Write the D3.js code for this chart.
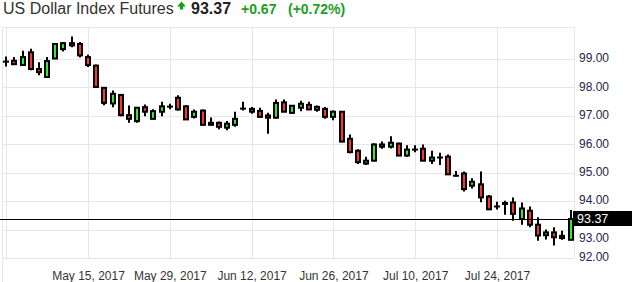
<!DOCTYPE html>
<html>
<head>
<meta charset="utf-8">
<script src="https://cdn.jsdelivr.net/npm/d3@7"></script>
<style>
  body { margin: 0; background: #fff; }
  svg { display: block; font-family: "Liberation Sans", Arial, sans-serif; }
</style>
</head>
<body>
<div id="chart"></div>
<script>
// daily OHLC, one value per trading day from May 1 to Aug 4, 2017
const opens  = [98.90,98.93,98.78,99.23,98.64,98.36,99.01,99.34,99.55,99.52,
                99.06,98.76,97.98,97.43,97.73,97.02,96.81,97.30,96.89,97.14,
                97.32,97.63,97.33,96.96,97.18,96.68,96.75,96.58,96.68,97.25,
                97.24,97.17,97.01,96.93,97.47,97.10,97.28,97.38,97.21,97.24,
                96.96,97.14,96.19,95.77,95.32,95.42,95.91,95.91,96.02,95.60,
                95.81,95.84,95.42,95.53,95.56,94.89,94.97,94.54,94.59,94.16,
                93.81,93.93,93.95,93.37,93.66,93.17,92.80,92.90,92.78,92.64];
const highs  = [99.08,99.06,99.28,99.35,98.88,99.06,99.55,99.59,99.78,99.59,
                99.14,98.80,98.01,97.89,97.74,97.36,97.30,97.39,97.23,97.49,
                97.42,97.72,97.37,97.22,97.22,96.94,96.80,96.81,97.14,97.49,
                97.31,97.28,97.10,97.57,97.57,97.36,97.53,97.49,97.36,97.31,
                97.18,97.16,96.34,95.82,95.56,96.03,96.09,96.28,96.05,95.96,
                95.96,95.99,95.77,95.70,95.64,95.06,95.04,94.80,95.04,94.21,
                93.98,94.01,94.13,93.95,93.81,93.43,93.00,93.08,92.96,93.69];
const lows   = [98.73,98.80,98.77,98.60,98.42,98.36,98.99,99.26,99.41,99.05,
                98.71,98.00,97.37,97.30,96.98,96.75,96.75,96.98,96.88,96.98,
                97.23,97.18,96.85,96.90,96.66,96.66,96.52,96.49,96.61,97.18,
                97.07,96.95,96.37,96.90,97.13,97.09,97.16,97.20,97.14,96.89,
                96.84,96.08,95.68,95.30,95.27,95.40,95.84,95.85,95.58,95.56,
                95.72,95.41,95.30,95.27,94.93,94.86,94.34,94.44,93.96,93.69,
                93.70,93.52,93.31,93.17,93.08,92.61,92.65,92.44,92.64,92.62];
const closes = [98.90,98.81,99.06,98.64,98.53,98.92,99.52,99.55,99.47,99.12,
                98.78,98.01,97.45,97.77,97.02,96.89,97.28,97.14,97.16,97.33,
                97.32,97.22,96.87,97.14,96.68,96.75,96.61,96.72,96.89,97.25,
                97.14,96.96,96.93,97.45,97.14,97.35,97.42,97.22,97.31,96.96,
                97.14,96.09,95.72,95.37,95.42,95.99,95.99,96.05,95.60,95.81,
                95.81,95.42,95.53,95.53,94.94,94.89,94.42,94.68,94.13,93.71,
                93.81,93.90,93.55,93.74,93.17,92.79,92.90,92.73,92.70,93.37];

const yTicks = [92,93,94,95,96,97,98,99];
const lastPrice = 93.37;
const change = "+0.67";
const changePct = "(+0.72%)";

// trading days (weekdays only)
const days = d3.timeDay.range(new Date(2017,4,1), new Date(2017,7,5))
                .filter(d => d.getDay() > 0 && d.getDay() < 6);
const data = days.map((d,i) => ({date:d, o:opens[i], h:highs[i], l:lows[i], c:closes[i]}));

const w = 632, h = 282;
const plotLeft = 2, plotRight = 574, plotTop = 27, plotBottom = 258;

const x = d3.scalePoint()
    .domain(days)
    .range([6.2, 570.6]);

const y = d3.scaleLinear()
    .domain([92, 99])
    .range([258, 58.8]);

const svg = d3.select("#chart").append("svg")
    .attr("width", w)
    .attr("height", h);

// title
const title = svg.append("g");
title.append("text")
    .attr("x", 3).attr("y", 14)
    .style("font-size", "16px").style("fill", "#333")
    .text("US Dollar Index Futures");
title.append("path")
    .attr("d", "M181.5,1.5 L186,6.5 L183.2,6.5 L183.2,9.5 L179.8,9.5 L179.8,6.5 L177,6.5 Z")
    .style("fill", "#1e9e1e");
title.append("text")
    .attr("x", 191).attr("y", 14)
    .style("font-size", "16px").style("font-weight", "bold").style("fill", "#222")
    .text(lastPrice.toFixed(2));
title.append("text")
    .attr("x", 241).attr("y", 14)
    .style("font-size", "14px").style("font-weight", "bold").style("fill", "#1e9e1e")
    .text(change);
title.append("text")
    .attr("x", 288).attr("y", 14)
    .style("font-size", "14px").style("font-weight", "bold").style("fill", "#1e9e1e")
    .text(changePct);

// grid
const grid = svg.append("g").style("stroke", "#e6e6ea").style("stroke-width", 1);
grid.selectAll(".hg")
    .data(yTicks)
    .enter().append("line")
    .attr("x1", plotLeft).attr("x2", plotRight)
    .attr("y1", d => Math.round(y(d)) + 0.5)
    .attr("y2", d => Math.round(y(d)) + 0.5);
const xTicks = days.filter((d,i) => i % 10 == 0);
grid.selectAll(".vg")
    .data(xTicks)
    .enter().append("line")
    .attr("x1", d => Math.round(x(d)) + 0.5)
    .attr("x2", d => Math.round(x(d)) + 0.5)
    .attr("y1", plotTop).attr("y2", plotBottom);
grid.append("line")
    .attr("x1", plotLeft + 0.5).attr("x2", plotLeft + 0.5)
    .attr("y1", plotTop).attr("y2", h);
grid.append("line")
    .attr("x1", plotRight + 0.5).attr("x2", plotRight + 0.5)
    .attr("y1", plotTop).attr("y2", plotBottom);
grid.append("line")
    .attr("x1", plotLeft).attr("x2", plotRight)
    .attr("y1", plotTop + 0.5).attr("y2", plotTop + 0.5);

// y-axis labels on the right
const yAxis = d3.axisRight(y)
    .tickValues(yTicks)
    .tickSize(0)
    .tickPadding(5)
    .tickFormat(d3.format(".2f"));
svg.append("g")
    .attr("id", "y-axis")
    .attr("transform", "translate(" + plotRight + ",-1)")
    .call(yAxis)
    .call(g => g.select(".domain").remove())
    .selectAll("text")
    .attr("dy", d => d == 93 ? "1.05em" : "0.32em")   // keep 93.00 clear of the price tag
    .style("font-size", "12px")
    .style("font-family", "Liberation Sans, Arial, sans-serif")
    .style("fill", "#26264a");

// x-axis labels
const xAxis = d3.axisBottom(x)
    .tickValues(xTicks.slice(1))
    .tickSize(0)
    .tickPadding(13)
    .tickFormat(d3.timeFormat("%b %-d, %Y"));
svg.append("g")
    .attr("id", "x-axis")
    .attr("transform", "translate(0," + plotBottom + ")")
    .call(xAxis)
    .call(g => g.select(".domain").remove())
    .selectAll("text")
    .style("font-size", "12px")
    .style("font-family", "Liberation Sans, Arial, sans-serif")
    .style("fill", "#333");

// candles
const candles = svg.append("g").selectAll("g")
    .data(data)
    .enter().append("g");

candles.append("line")
    .attr("x1", d => Math.round(x(d.date)))
    .attr("x2", d => Math.round(x(d.date)))
    .attr("y1", d => y(d.h))
    .attr("y2", d => y(d.l))
    .style("stroke", "#000")
    .style("stroke-width", 2);

candles.append("rect")
    .attr("x", d => Math.round(x(d.date)) - 2)
    .attr("width", 4)
    .attr("y", d => y(Math.max(d.o, d.c)))
    .attr("height", d => Math.max(0.01, y(Math.min(d.o, d.c)) - y(Math.max(d.o, d.c))))
    .style("fill", d => d.c > d.o ? "#33ee33" : (d.c < d.o ? "#ff3333" : "#000"))
    .style("stroke", "#000")
    .style("stroke-width", 2);

// last price line and tag
svg.append("line")
    .attr("x1", 0).attr("x2", plotRight)
    .attr("y1", Math.round(y(lastPrice)) + 0.5)
    .attr("y2", Math.round(y(lastPrice)) + 0.5)
    .style("stroke", "#000")
    .style("stroke-width", 1);
svg.append("rect")
    .attr("x", plotRight - 1).attr("y", y(lastPrice) - 8)
    .attr("width", w - plotRight + 1).attr("height", 15)
    .style("fill", "#000");
svg.append("text")
    .attr("x", 577).attr("y", y(lastPrice) + 3.5)
    .style("font-size", "12.5px").style("fill", "#fff")
    .text(lastPrice.toFixed(2));
</script>
</body>
</html>
